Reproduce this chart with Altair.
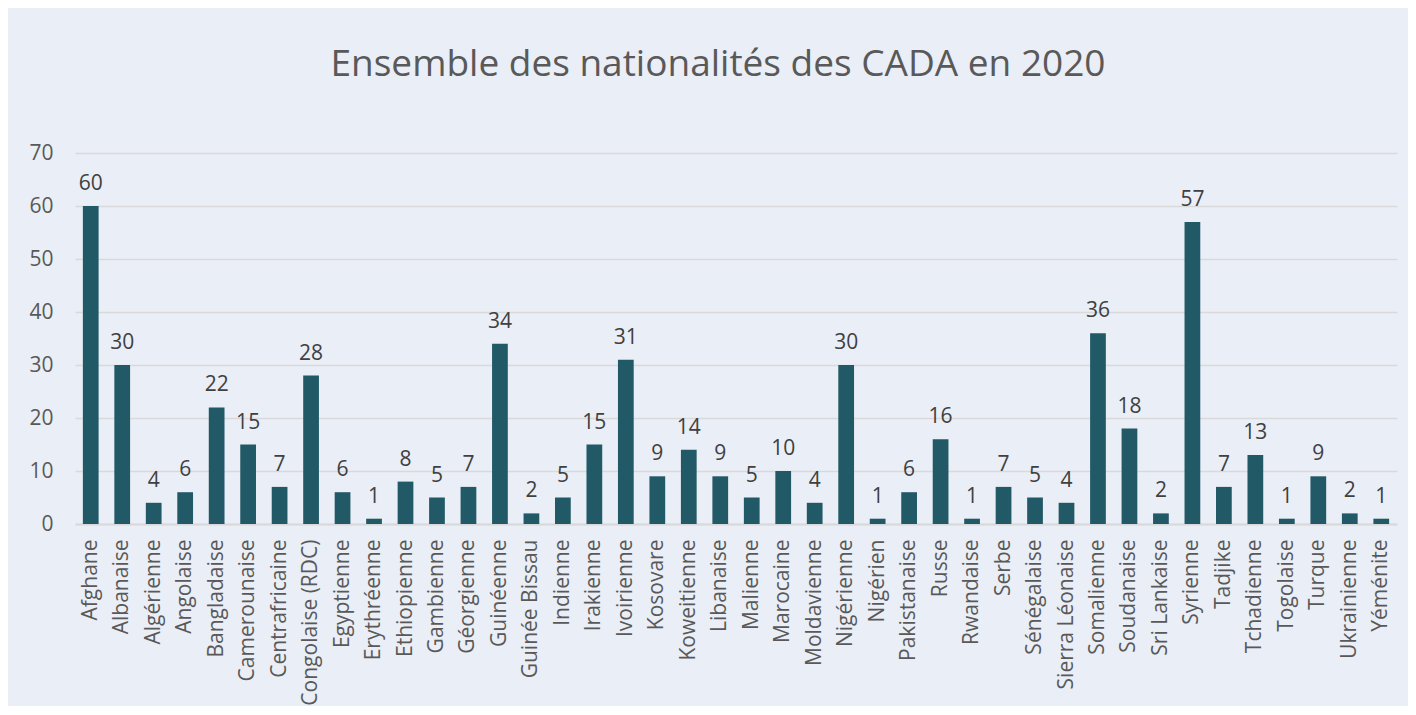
import altair as alt
import pandas as pd

categories = ["Afghane", "Albanaise", "Algérienne", "Angolaise", "Bangladaise", "Camerounaise",
              "Centrafricaine", "Congolaise (RDC)", "Egyptienne", "Erythréenne", "Ethiopienne",
              "Gambienne", "Géorgienne", "Guinéenne", "Guinée Bissau", "Indienne", "Irakienne",
              "Ivoirienne", "Kosovare", "Koweitienne", "Libanaise", "Malienne", "Marocaine",
              "Moldavienne", "Nigérienne", "Nigérien", "Pakistanaise", "Russe", "Rwandaise",
              "Serbe", "Sénégalaise", "Sierra Léonaise", "Somalienne", "Soudanaise",
              "Sri Lankaise", "Syrienne", "Tadjike", "Tchadienne", "Togolaise", "Turque",
              "Ukrainienne", "Yéménite"]
values = [60, 30, 4, 6, 22, 15, 7, 28, 6, 1, 8, 5, 7, 34, 2, 5, 15, 31, 9, 14, 9, 5, 10, 4,
          30, 1, 6, 16, 1, 7, 5, 4, 36, 18, 2, 57, 7, 13, 1, 9, 2, 1]
y_ticks = [0, 10, 20, 30, 40, 50, 60, 70]

df = pd.DataFrame({"nat": categories, "val": values})

FONT = "Open Sans"
TXT = "#595959"

x_enc = alt.X("nat:N", sort=categories, title=None,
              scale=alt.Scale(paddingInner=0.5, paddingOuter=0.25),
              axis=alt.Axis(labelAngle=-90, labelAlign="right", labelBaseline="middle",
                            labelPadding=15, ticks=False, domain=True,
                            domainColor="#D9D9D9", domainWidth=2,
                            labelFont=FONT, labelFontSize=21, labelColor=TXT))
y_enc = alt.Y("val:Q", title=None,
              scale=alt.Scale(domain=[0, 70], nice=False),
              axis=alt.Axis(values=y_ticks, ticks=False, domain=False, labelPadding=22,
                            gridColor="#D9D9D9", gridWidth=1.5,
                            labelFont=FONT, labelFontSize=21, labelColor=TXT))

bars = alt.Chart(df).mark_bar(color="#215966").encode(x=x_enc, y=y_enc)
labels = alt.Chart(df).mark_text(font=FONT, fontSize=21, color="#404040",
                                 baseline="alphabetic", dy=-16).encode(
    x=alt.X("nat:N", sort=categories), y=alt.Y("val:Q"), text="val:Q")

chart = alt.layer(bars, labels).properties(
    width=1322, height=371,
    padding={"left": 67, "top": 145, "right": 11, "bottom": 182},
    autosize=alt.AutoSizeParams(type="none"),
    background="#EAEEF6",
    title=alt.TitleParams("Ensemble des nationalités des CADA en 2020", font=FONT,
                          fontSize=37, fontWeight="normal", color=TXT, anchor="middle",
                          frame="group", dx=-18, offset=29, baseline="alphabetic"),
).configure_view(stroke=None)

chart.save("out.html", embed_options={"renderer": "svg", "actions": False})
